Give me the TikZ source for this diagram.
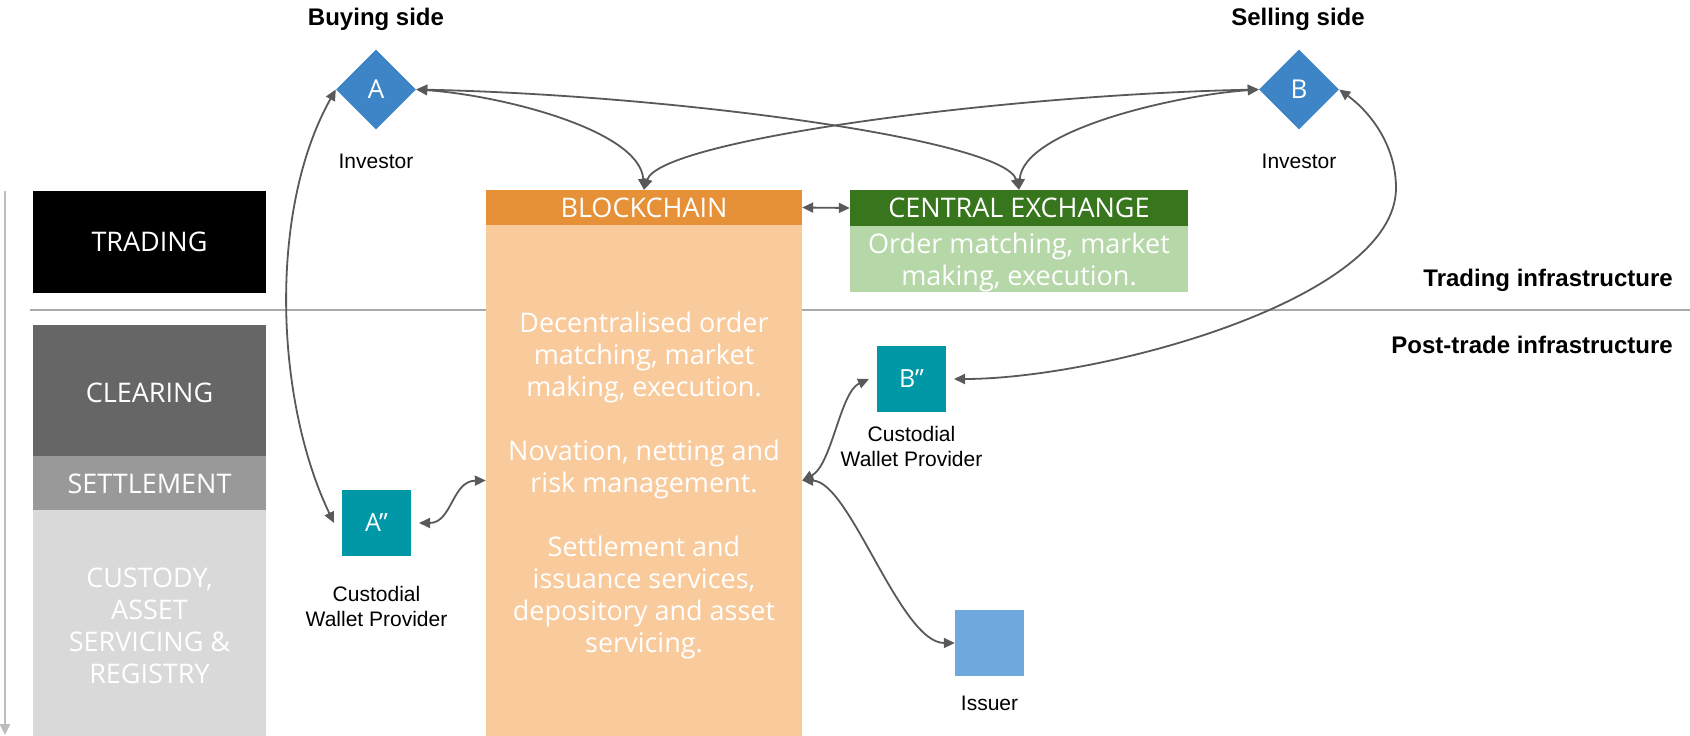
\documentclass[tikz,border=0pt]{standalone}
\usepackage{fontspec}
\setmainfont{Liberation Sans}
\newfontfamily\osans{Open Sans}
\usetikzlibrary{arrows.meta,shapes.geometric}
\definecolor{arrgray}{HTML}{595959}
\definecolor{sepgray}{HTML}{AAAAAA}
\definecolor{axgray}{HTML}{BDBDBD}
\definecolor{clrgray}{HTML}{666666}
\definecolor{setgray}{HTML}{999999}
\definecolor{cusgray}{HTML}{D9D9D9}
\definecolor{bchead}{HTML}{E69138}
\definecolor{bcbody}{HTML}{F9CB9C}
\definecolor{cehead}{HTML}{38761D}
\definecolor{cebody}{HTML}{B6D7A8}
\definecolor{dblue}{HTML}{3D85C6}
\definecolor{teal}{HTML}{0097A7}
\definecolor{issblue}{HTML}{6FA8DC}
\begin{document}
\begin{tikzpicture}[x=1pt,y=-1pt,
  box/.style={rectangle, inner sep=0, text=white, align=center,
    font=\osans\fontsize{27}{32}\selectfont},
  lab/.style={inner sep=0, text=black, align=center,
    font=\fontsize{21}{25.5}\selectfont},
  blab/.style={inner sep=0, text=black, font=\bfseries\fontsize{24}{28}\selectfont},
  dia/.style={diamond, fill=dblue, minimum size=80, inner sep=0, text=white,
    font=\osans\fontsize{26}{30}\selectfont},
  wallet/.style={rectangle, fill=teal, minimum width=69, minimum height=66, inner sep=0,
    outer sep=8, text=white, font=\osans\fontsize{25}{30}\selectfont},
  conn/.style={draw=arrgray, line width=1.8pt,
    {Triangle[length=11pt,width=10pt]}-{Triangle[length=11pt,width=10pt]}},
]
\useasboundingbox (0,0) rectangle (1690,736);
\fill[white] (0,0) rectangle (1690,736);

% axis arrow and separator
\coordinate (axtop) at (5,191);
\coordinate (axbot) at (5,735);
\draw[draw=axgray, line width=2.5pt, -{Triangle[length=11pt,width=10pt]}] (axtop) -- (axbot);
\coordinate (sepL) at (30,310);
\coordinate (sepR) at (1690,310);
\draw[draw=sepgray, line width=2pt] (sepL) -- (sepR);

% left column
\node[box, fill=black, minimum width=233, minimum height=102] (trading) at (149.5,242) {TRADING};
\node[box, fill=clrgray, minimum width=233, minimum height=131] (clearing) at (149.5,390.5) {};
\node[box] (cleartext) at (149.5,392.5) {CLEARING};
\node[box, fill=setgray, minimum width=233, minimum height=54] (settlement) at (149.5,483) {};
\node[box] (settext) at (149.5,484) {SETTLEMENT};
\node[box, fill=cusgray, minimum width=233, minimum height=226] (custody) at (149.5,623) {};
\node[box] (custext) at (149.5,626) {CUSTODY,\\ASSET\\SERVICING \&\\REGISTRY};

% blockchain
\node[box, fill=bcbody, minimum width=316, minimum height=511] (bcbody) at (644,480.5) {};
\node[box, fill=bchead, minimum width=316, minimum height=35] (bchead) at (644,207.5) {BLOCKCHAIN};
\node[box, anchor=north] (bctext) at (644,312) {Decentralised order\\matching, market\\making, execution.\\[32pt]Novation, netting and\\risk management.\\[32pt]Settlement and\\issuance services,\\depository and asset\\servicing.};

% central exchange
\node[box, fill=cehead, minimum width=338, minimum height=36] (cehead) at (1019,208) {CENTRAL EXCHANGE};
\node[box, fill=cebody, minimum width=338, minimum height=66] (cebody) at (1019,259) {};
\node[box] (cetext) at (1019,262) {Order matching, market\\making, execution.};

% investors
\node[blab, anchor=base] (buying) at (376,25) {Buying side};
\node[blab, anchor=base] (selling) at (1298,25) {Selling side};
\node[dia] (A) at (376,89.5) {A};
\node[dia] (B) at (1299,89.5) {B};
\node[lab, anchor=base] (invA) at (376,168) {Investor};
\node[lab, anchor=base] (invB) at (1299,168) {Investor};

% wallets and issuer
\node[wallet] (Ad) at (376.5,523) {A”};
\node[wallet] (Bd) at (911.5,379) {B”};
\node[lab, anchor=north] (cwA) at (376.5,585.7) {Custodial\\Wallet Provider};
\node[lab, anchor=north] (cwB) at (911.5,425.7) {Custodial\\Wallet Provider};
\node[rectangle, fill=issblue, minimum width=69, minimum height=66, inner sep=0] (issuer) at (989.5,643) {};
\node[lab, anchor=base] (isslab) at (989.5,710) {Issuer};

% infrastructure labels
\node[blab, anchor=base east] (tinfra) at (1673,286) {Trading infrastructure};
\node[blab, anchor=base east] (pinfra) at (1673,353) {Post-trade infrastructure};

% connectors
\draw[conn] (A.east) .. controls (500,95) and (640,130) .. (bchead.north);
\draw[conn] (A.east) .. controls (676,95) and (1005,140) .. (cehead.north);
\draw[conn] (B.west) .. controls (1000,95) and (660,140) .. (bchead.north);
\draw[conn] (B.west) .. controls (1176,95) and (1023,130) .. (cehead.north);
\draw[conn] (bchead.east) -- (cehead.west);
\draw[conn] (A.west) .. controls (268,210) and (275,400) .. (Ad.west);
\draw[conn] (Ad.east) .. controls (452,523) and (452,481) .. (bcbody.west);
\draw[conn] (bcbody.east) .. controls (832,465) and (840,392) .. (Bd.west);
\draw[conn] (bcbody.east) .. controls (850,481) and (900,643) .. (issuer.west);
\draw[conn] (B.east) .. controls (1370,112) and (1396,145) .. (1396,188)
   .. controls (1396,300) and (1100,379) .. (Bd.east);
\end{tikzpicture}
\end{document}
